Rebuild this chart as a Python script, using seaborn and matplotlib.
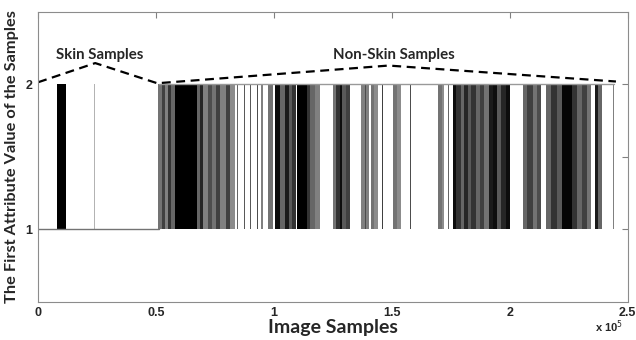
import matplotlib
matplotlib.use("Agg")
import matplotlib.pyplot as plt
import seaborn as sns
import pandas as pd

# x values in units of 1e5 samples
skin_start, skin_end = 0.0, 0.512
nonskin_start, nonskin_end = 0.512, 2.44

# spikes inside the skin part (start, end, grey level 0=black 1=white)
skin_band_start = [0.081, 0.236]
skin_band_end = [0.119, 0.240]
skin_band_shade = [0.0, 0.7]

# dense switching bands inside the non-skin part
band_start = [0.509, 0.526, 0.539, 0.552, 0.565, 0.581, 0.675, 0.688, 0.700, 0.722,
              0.739, 0.756, 0.772, 0.798, 0.815, 0.845, 0.874, 0.900, 0.930, 0.947,
              0.976, 1.006, 1.027, 1.048, 1.065, 1.078, 1.099, 1.138, 1.154, 1.176,
              1.252, 1.261, 1.282, 1.290, 1.307, 1.371, 1.384, 1.392, 1.413, 1.422,
              1.460, 1.503, 1.520, 1.575, 1.694, 1.711, 1.736, 1.757, 1.770, 1.791,
              1.804, 1.821, 1.834, 1.855, 1.872, 1.889, 1.910, 1.927, 1.944, 1.961,
              1.982, 2.054, 2.071, 2.097, 2.114, 2.152, 2.173, 2.199, 2.220, 2.262,
              2.284, 2.305, 2.326, 2.360, 2.373, 2.436]
band_end = [0.526, 0.539, 0.552, 0.565, 0.581, 0.675, 0.688, 0.700, 0.722, 0.739,
            0.756, 0.772, 0.798, 0.815, 0.836, 0.849, 0.879, 0.904, 0.934, 0.955,
            0.997, 1.027, 1.048, 1.065, 1.078, 1.095, 1.138, 1.154, 1.176, 1.197,
            1.261, 1.282, 1.290, 1.307, 1.324, 1.384, 1.392, 1.401, 1.422, 1.439,
            1.464, 1.520, 1.537, 1.583, 1.711, 1.723, 1.744, 1.770, 1.791, 1.804,
            1.821, 1.834, 1.855, 1.872, 1.889, 1.910, 1.927, 1.944, 1.961, 1.982,
            1.999, 2.071, 2.097, 2.114, 2.131, 2.173, 2.199, 2.220, 2.262, 2.284,
            2.305, 2.326, 2.343, 2.373, 2.390, 2.441]
band_shade = [0.45, 0.25, 0.5, 0.2, 0.4, 0.0, 0.4, 0.15, 0.5, 0.3,
              0.45, 0.25, 0.5, 0.25, 0.55, 0.4, 0.35, 0.35, 0.3, 0.5,
              0.45, 0.05, 0.4, 0.1, 0.35, 0.2, 0.0, 0.2, 0.4, 0.5,
              0.45, 0.2, 0.05, 0.35, 0.25, 0.5, 0.3, 0.5, 0.45, 0.55,
              0.25, 0.45, 0.55, 0.3, 0.45, 0.55, 0.4, 0.05, 0.2, 0.4,
              0.15, 0.35, 0.2, 0.4, 0.25, 0.45, 0.1, 0.05, 0.35, 0.15,
              0.05, 0.4, 0.25, 0.45, 0.3, 0.4, 0.2, 0.35, 0.02, 0.2,
              0.4, 0.25, 0.45, 0.1, 0.4, 0.5]

# dashed brace lines over the two groups
brace_x = [0.0, 0.242, 0.505, 1.486, 2.45]
brace_y = [2.015, 2.147, 2.008, 2.13, 2.02]

xticks = [0, 0.5, 1, 1.5, 2, 2.5]
xtick_labels = ["0", "0.5", "1", "1.5", "2", "2.5"]
yticks = [1, 1.5, 2]
ytick_labels = ["1", "", "2"]

sns.set_style("white")
plt.rcParams["font.family"] = ["Liberation Sans", "DejaVu Sans"]
label_font = ["Lato", "DejaVu Sans"]

fig = plt.figure(figsize=(6.36, 3.4), dpi=100)
ax = fig.add_axes([0.06, 0.112, 0.927, 0.853])

# baseline / top lines
ax.plot([skin_start, skin_end], [1, 1], color="0.45", lw=1)
ax.plot([nonskin_start, nonskin_end], [2, 2], color="0.6", lw=1)

for s, e, g in zip(skin_band_start, skin_band_end, skin_band_shade):
    ax.bar(s, 1, width=e - s, bottom=1, align="edge", color=str(g), linewidth=0)
for s, e, g in zip(band_start, band_end, band_shade):
    ax.bar(s, 1, width=e - s, bottom=1, align="edge", color=str(g), linewidth=0)

brace = pd.DataFrame({"x": brace_x, "y": brace_y})
sns.lineplot(data=brace, x="x", y="y", ax=ax, color="black", lw=1.6,
             linestyle=(0, (4, 2.5)), sort=False)

ax.text(0.26, 2.2, "Skin Samples", ha="center", va="center",
        fontsize=10.8, fontweight="bold", family=label_font)
ax.text(1.51, 2.2, "Non-Skin Samples", ha="center", va="center",
        fontsize=10.8, fontweight="bold", family=label_font)

ax.set_xlim(0, 2.5)
ax.set_ylim(0.5, 2.5)
ax.set_xticks(xticks)
ax.set_xticklabels(xtick_labels)
ax.set_yticks(yticks)
ax.set_yticklabels(ytick_labels)
ax.tick_params(direction="in", length=4, color="0.5", top=True, right=True,
               labelsize=9, pad=4)
for lab in ax.get_xticklabels() + ax.get_yticklabels():
    lab.set_fontweight("bold")
for sp in ax.spines.values():
    sp.set_color("0.55")
    sp.set_linewidth(0.8)

ax.set_xlabel("Image Samples", fontsize=14, fontweight="bold",
              family=label_font, labelpad=0)
ax.set_ylabel("The First Attribute Value of the Samples", fontsize=11.8,
              fontweight="bold", family=label_font, labelpad=5)
fig.text(0.935, 0.025, r"x 10$^{5}$", fontsize=8, fontweight="bold")

fig.savefig("out.png", dpi=100)
